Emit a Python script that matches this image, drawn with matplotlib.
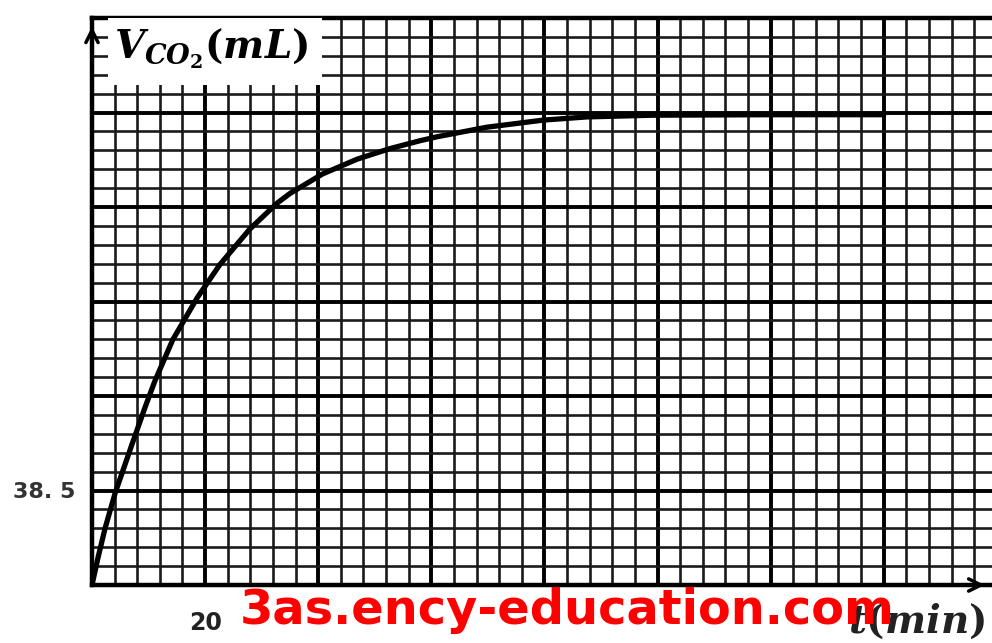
import matplotlib
matplotlib.use('Agg')
import matplotlib.pyplot as plt
from matplotlib.patches import Rectangle
from matplotlib.ticker import MultipleLocator, FixedLocator, FixedFormatter
from matplotlib import rcParams

rcParams['mathtext.fontset'] = 'custom'
rcParams['mathtext.it'] = 'DejaVu Serif:italic:bold'
rcParams['mathtext.rm'] = 'DejaVu Serif:bold'

# data (t in min, V in mL)
t_min = [0, 1.1, 2.3, 4.1, 7.1, 9.4, 11.1, 14.3, 18.6, 22.6, 27.9, 32.7, 35.0, 40.8,
         46.9, 52.7, 58.0, 61.0, 69.8, 79.8, 87.5, 99.2, 120, 140]
v_co2 = [0, 11.5, 23, 37.5, 57.5, 72.5, 83, 100, 117, 130.5, 145, 155.5, 159.5, 167.5,
         173.5, 177.8, 181, 182.6, 186.5, 189.4, 190.7, 191.4, 191.6, 191.6]

x_major = 20
x_minor = 4
y_major = 38.5
y_minor = 7.7
x_max = 159.15
y_max = 231

x_label_ticks = [20]
y_label_ticks = [38.5]
y_label_text = ['38. 5']


def plotCurve(fname='out.png'):

	fig = plt.figure(figsize=(9.92, 6.43), dpi=100)
	ax = fig.add_axes([92/992, 58/643, 900/992, 567/643])

	ax.set_xlim(0, x_max)
	ax.set_ylim(0, y_max)

	# graph paper:
	ax.xaxis.set_major_locator(MultipleLocator(x_major))
	ax.xaxis.set_minor_locator(MultipleLocator(x_minor))
	ax.yaxis.set_major_locator(MultipleLocator(y_major))
	ax.yaxis.set_minor_locator(MultipleLocator(y_minor))
	ax.grid(which='minor', color='#1a1a1a', linewidth=1.9)
	ax.grid(which='major', color='black', linewidth=2.8)
	ax.set_axisbelow(True)
	ax.tick_params(which='both', length=0)
	ax.set_xticklabels([])
	ax.set_yticklabels([])

	ax.spines['right'].set_visible(False)
	for side in ['left', 'bottom', 'top']:
		ax.spines[side].set_linewidth(3.2)
		ax.spines[side].set_color('black')

	# the only labelled values, on twin axes so the grid keeps every line
	ax2 = ax.twiny()
	ax2.set_xlim(ax.get_xlim())
	ax2.xaxis.set_ticks_position('bottom')
	ax2.xaxis.set_major_locator(FixedLocator(x_label_ticks))
	ax2.xaxis.set_major_formatter(FixedFormatter([str(v) for v in x_label_ticks]))
	ax2.tick_params(axis='x', length=0, pad=19, labelsize=17, labelcolor='#222222')
	for lab in ax2.get_xticklabels():
		lab.set_fontweight('bold')
		lab.set_family('DejaVu Sans')
	for s in ax2.spines.values():
		s.set_visible(False)

	ax3 = ax.twinx()
	ax3.set_ylim(ax.get_ylim())
	ax3.yaxis.set_ticks_position('left')
	ax3.yaxis.set_major_locator(FixedLocator(y_label_ticks))
	ax3.yaxis.set_major_formatter(FixedFormatter(y_label_text))
	ax3.tick_params(axis='y', length=0, pad=12, labelsize=16, labelcolor='#333333')
	for lab in ax3.get_yticklabels():
		lab.set_fontweight('bold')
		lab.set_family('DejaVu Sans')
	for s in ax3.spines.values():
		s.set_visible(False)

	# the curve:
	ax.plot(t_min, v_co2, color='black', linewidth=3.8, solid_capstyle='round',
		solid_joinstyle='round', zorder=5)

	# white box behind the y label:
	ax.add_patch(Rectangle((0.018, 0.882), 0.238, 0.118, transform=ax.transAxes,
		facecolor='white', edgecolor='none', zorder=3))
	ax.text(0.024, 0.945, r'$V_{CO_2}(mL)$', transform=ax.transAxes,
		fontsize=28, ha='left', va='center', zorder=6)

	# axis arrows:
	ax.annotate('', xy=(0, 0.99), xytext=(0, 0.93), xycoords='axes fraction',
		arrowprops=dict(arrowstyle='->', lw=2.5, color='black', mutation_scale=22),
		annotation_clip=False, zorder=7)
	ax.annotate('', xy=(0.995, 0), xytext=(0.95, 0), xycoords='axes fraction',
		arrowprops=dict(arrowstyle='->', lw=2.5, color='black', mutation_scale=22),
		annotation_clip=False, zorder=7)

	ax.text(0.992, -0.064, r'$t(min)$', transform=ax.transAxes,
		fontsize=28, ha='right', va='center', color='#222222', clip_on=False)

	# watermark:
	fig.text(0.572, 0.05, '3as.ency-education.com', color='#ff0000', fontsize=34.5,
		fontweight='bold', family='DejaVu Sans', ha='center', va='center', zorder=10)

	plt.savefig(fname, dpi=100)


plotCurve()
